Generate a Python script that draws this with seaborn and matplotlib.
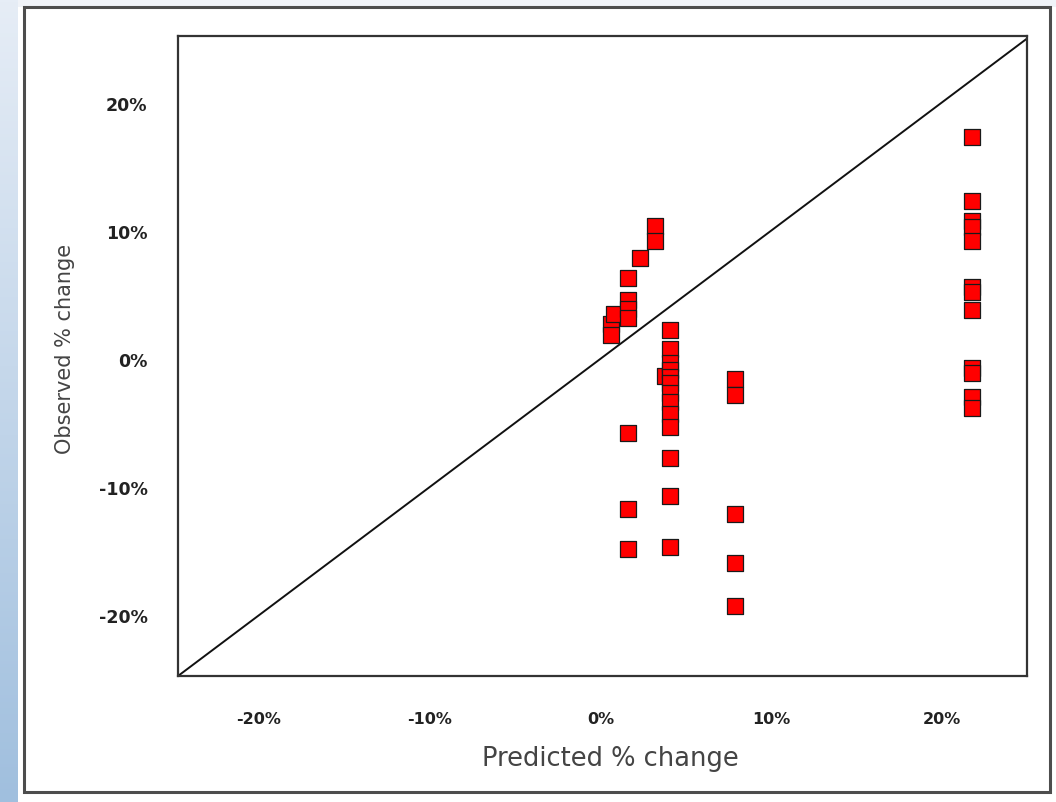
import numpy as np
import pandas as pd
import matplotlib
matplotlib.use("Agg")
import matplotlib.pyplot as plt
import seaborn as sns
from matplotlib.patches import Rectangle
from matplotlib.colors import LinearSegmentedColormap

# ---- data (percent) ----
predicted = [0.6, 0.6, 0.8,
             1.6, 1.6, 1.6, 1.6, 1.6, 1.6, 1.6,
             2.3,
             3.2, 3.2,
             3.8,
             4.1, 4.1, 4.1, 4.1, 4.1, 4.1, 4.1, 4.1, 4.1, 4.1, 4.1, 4.1, 4.1,
             7.9, 7.9, 7.9, 7.9, 7.9,
             21.8, 21.8, 21.8, 21.8, 21.8, 21.8, 21.8, 21.8, 21.8, 21.8, 21.8, 21.8]
observed = [2.7, 1.9, 3.5,
            6.3, 4.6, 3.9, 3.2, -5.8, -11.7, -14.8,
            7.9,
            10.4, 9.2,
            -1.3,
            2.25, 0.75, -0.35, -0.9, -1.4, -1.9, -2.7, -3.4, -4.3, -5.3, -7.7, -10.7, -14.7,
            -1.6, -2.8, -12.1, -15.9, -19.3,
            17.3, 12.3, 10.8, 10.3, 9.2, 5.6, 5.2, 3.8, -0.7, -1.1, -3.0, -3.8]

tick_values = [-20, -10, 0, 10, 20]
tick_labels = ["-20%", "-10%", "0%", "10%", "20%"]
x_title = "Predicted % change"
y_title = "Observed % change"

df = pd.DataFrame({"predicted": predicted, "observed": observed})

sns.set_style("white")
plt.rcParams["font.family"] = ["DejaVu Sans"]

W, H = 1056, 803
fig = plt.figure(figsize=(W / 100, H / 100), dpi=100)
fig.patch.set_facecolor("white")

# left gradient strip and faint top band
ax_bg = fig.add_axes([0, 0, 18 / W, 1])
grad = np.linspace(0, 1, 256).reshape(-1, 1)
cmap = LinearSegmentedColormap.from_list("strip", ["#e6edf6", "#a0bfde"])
ax_bg.imshow(grad, aspect="auto", cmap=cmap, origin="upper")
ax_bg.axis("off")
fig.add_artist(Rectangle((18 / W, 1 - 8 / H), 1 - 18 / W, 8 / H,
                         transform=fig.transFigure, facecolor="#f0f3f8",
                         edgecolor="none", zorder=0))

# outer frame
fig.add_artist(Rectangle((24 / W, 1 - 793 / H), (1050 - 24) / W, (793 - 8) / H,
                         transform=fig.transFigure, fill=False,
                         edgecolor="#4d4d4d", linewidth=2.2, zorder=5))

ax = fig.add_axes([178 / W, 1 - 677 / H, (1027 - 178) / W, (677 - 37) / H])
ax.set_facecolor("white")

ax.axline((0, 0), slope=1, color="#111111", linewidth=1.4, zorder=1)

sns.scatterplot(data=df, x="predicted", y="observed", ax=ax, marker="s",
                s=118, color="#ff0000", edgecolor="#1a1a1a", linewidth=0.9,
                zorder=3, legend=False)

ax.set_xlim(-24.75, 25.0)
ax.set_ylim(-24.75, 25.2)

ax.set_xticks(tick_values)
ax.set_xticklabels(tick_labels, fontsize=11.5, fontweight="bold", color="#222222")
ax.set_yticks(tick_values)
ax.set_yticklabels(tick_labels, fontsize=12.5, fontweight="bold", color="#222222")
ax.tick_params(axis="x", length=0, pad=25)
ax.tick_params(axis="y", length=0, pad=22)

for sp in ax.spines.values():
    sp.set_visible(True)
    sp.set_color("#333333")
    sp.set_linewidth(1.6)

ax.set_xlabel(x_title, fontsize=18.5, color="#444444")
ax.set_ylabel(y_title, fontsize=15, color="#444444")
ax.xaxis.set_label_coords(0.509, -0.108)
ax.yaxis.set_label_coords(-0.121, 0.513)

fig.savefig("out.png", dpi=100)
